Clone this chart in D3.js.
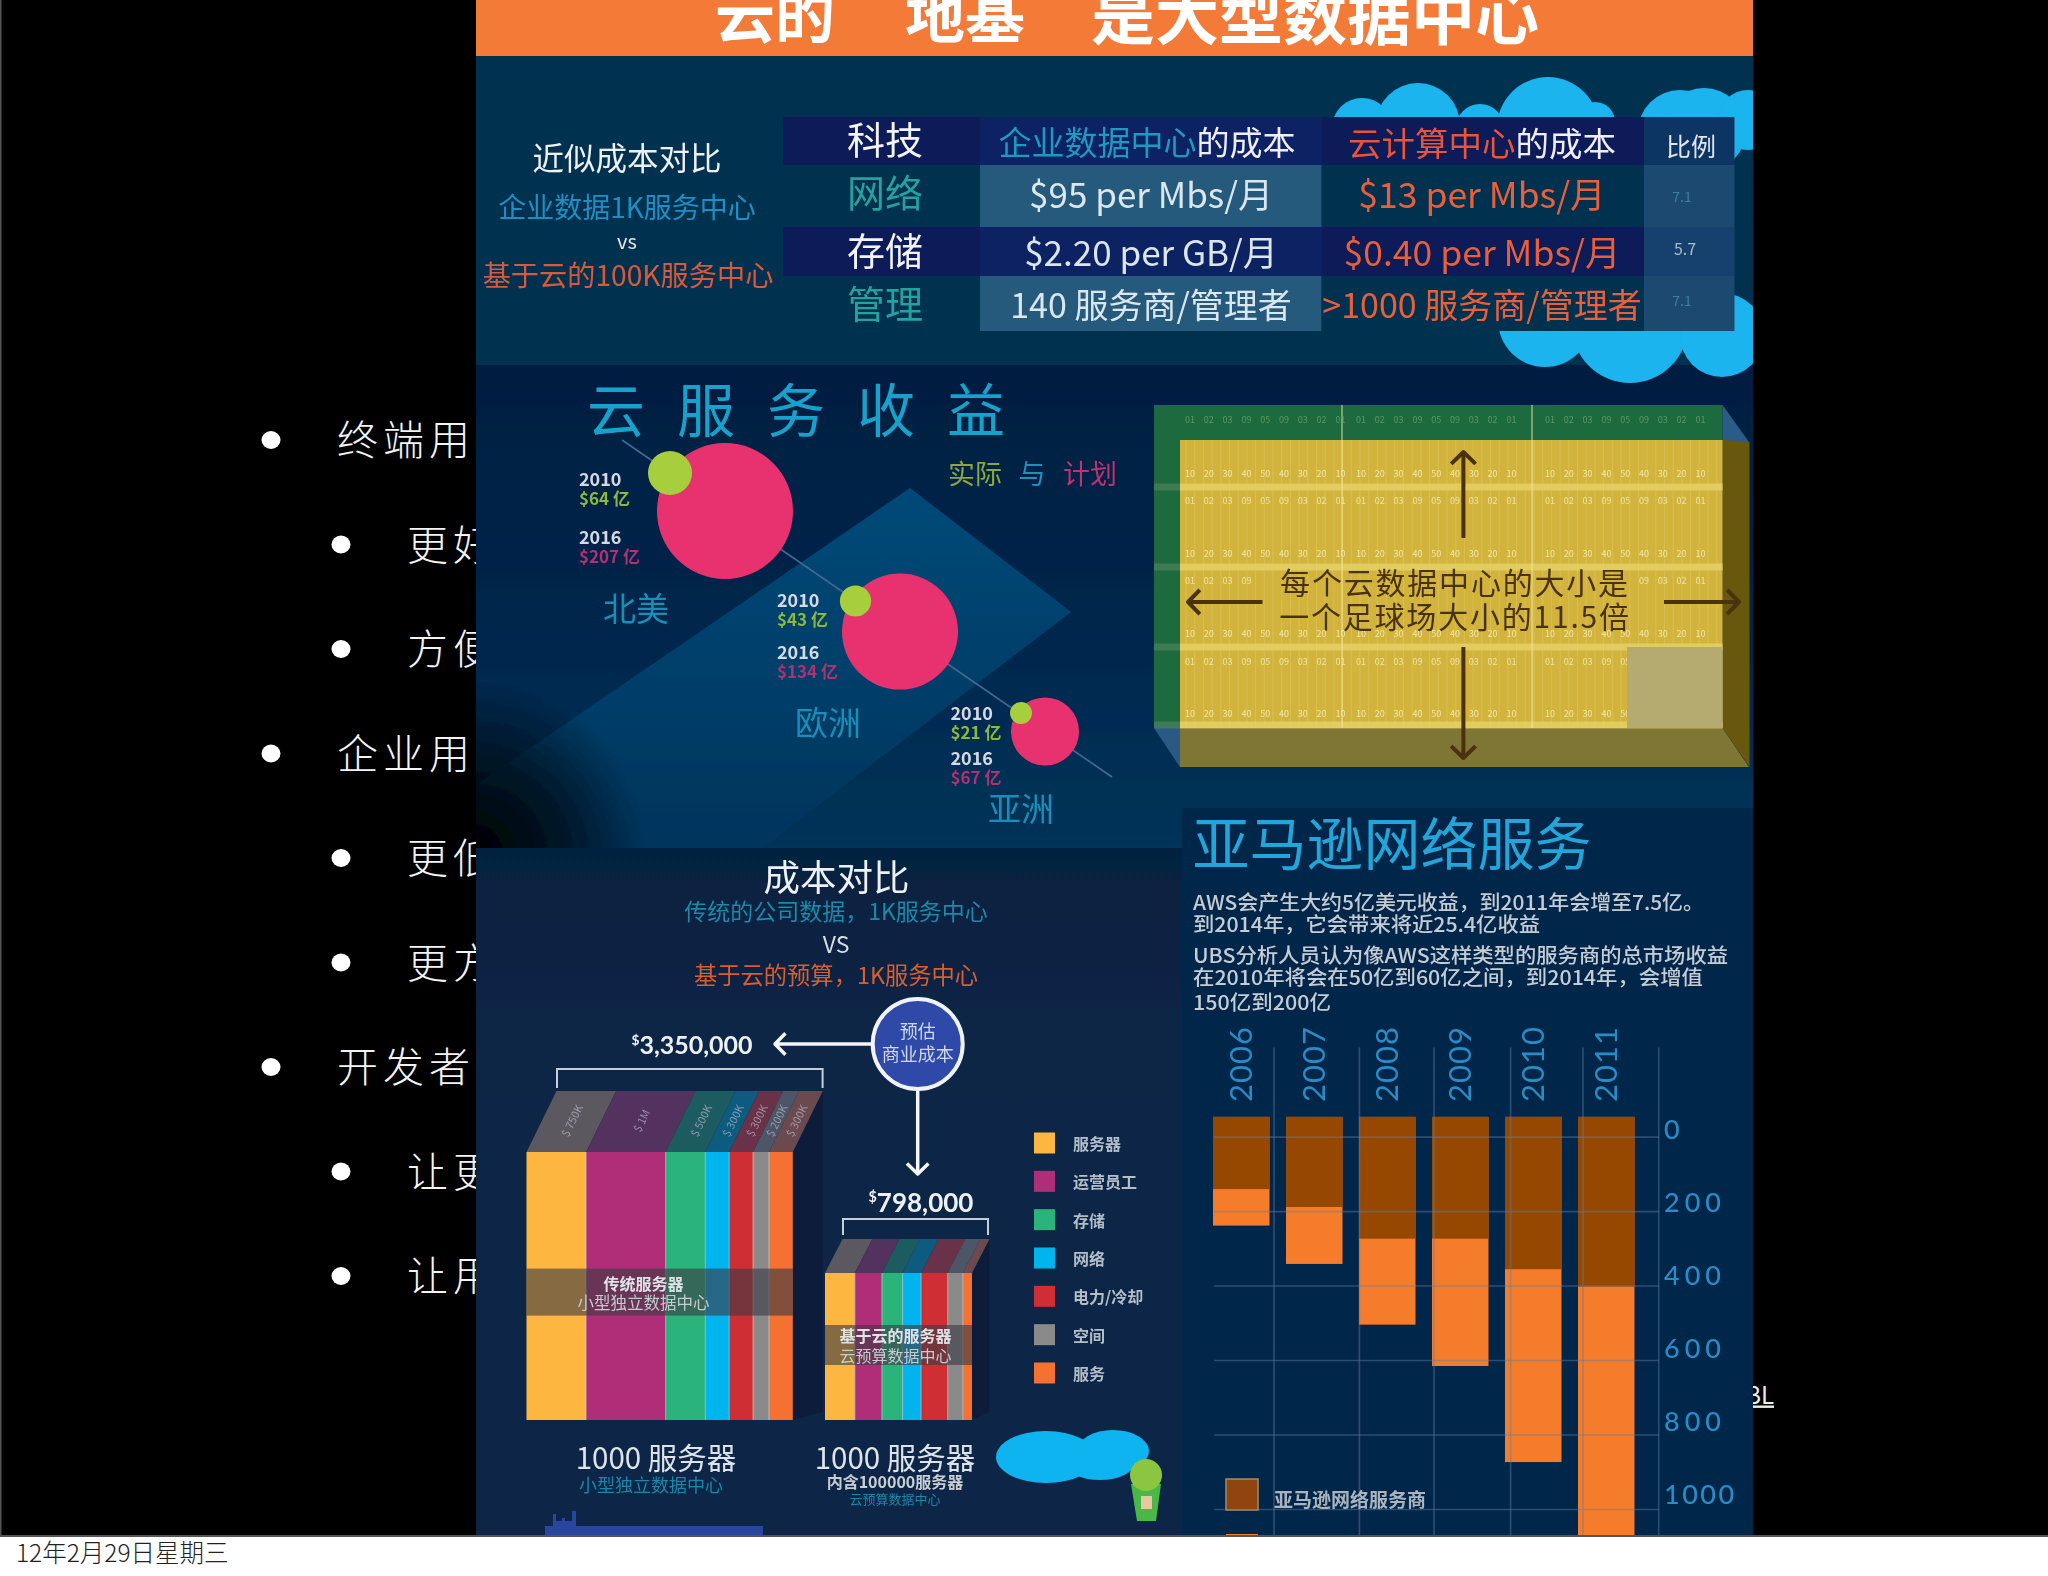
<!DOCTYPE html>
<html>
<head>
<meta charset="utf-8">
<script src="https://cdn.jsdelivr.net/npm/d3@7"></script>
<style>
  html, body { margin: 0; padding: 0; background: #fff; }
  svg { display: block; }
  text { font-family: "Noto Sans CJK SC", "Noto Sans", sans-serif; }
</style>
</head>
<body>
<div id="chart"></div>
<script>
// slide bullets behind the infographic
const bulletLevels = [1, 2, 2, 1, 2, 2, 1, 2, 2]
const bulletTexts = ["终端用户", "更好", "方便", "企业用户", "更低", "更方", "开发者", "让更", "让用"]

// cost table
const techRows = ["科技", "网络", "存储", "管理"]
const enterpriseCost = ["", "$95 per Mbs/月", "$2.20 per GB/月", "140 服务商/管理者"]
const cloudCost = ["", "$13 per Mbs/月", "$0.40 per Mbs/月", ">1000 服务商/管理者"]
const costRatio = ["比例", "7.1", "5.7", "7.1"]

// cloud revenue bubbles
const regions = ["北美", "欧洲", "亚洲"]
const actual2010 = [64, 43, 21]
const planned2016 = [207, 134, 67]

// cost comparison stacks
const costCategories = ["服务器", "运营员工", "存储", "网络", "电力/冷却", "空间", "服务"]
const costColors = ["#fdb73f", "#b02e78", "#2ab47c", "#04b4ee", "#cf2e35", "#8a8a8a", "#f47130"]
const roofColors = ["#5c5860", "#52305f", "#1f5c60", "#0b5c80", "#6a3148", "#4e5666", "#6a4a50"]
const traditionalCost = [750, 1000, 500, 300, 300, 200, 300]
const traditionalLabels = ["$ 750K", "$ 1M", "$ 500K", "$ 300K", "$ 300K", "$ 200K", "$ 300K"]
const cloudStackCost = [162, 147, 112, 100, 145, 82, 50]

// AWS revenue bars
const awsYears = ["2006", "2007", "2008", "2009", "2010", "2011"]
const awsProvider = [141, 189, 274, 274, 356, 403]
const awsTotal = [239, 342, 505, 616, 874, 1085]
const awsTicks = [0, 200, 400, 600, 800, 1000]
const awsBarStart = -53

const yardNumbers = ["10", "20", "30", "40", "50", "40", "30", "20", "10"]
const yardSmall = ["01", "02", "03", "09", "05", "09", "03", "02", "01"]

const svg = d3.select("#chart").append("svg").attr("width", 2048).attr("height", 1576)
const defs = svg.append("defs")

const txt = (sel, x, y, s, size, fill, o = {}) => sel.append("text")
    .attr("x", x).attr("y", y)
    .attr("dominant-baseline", "central")
    .attr("text-anchor", o.anchor || "middle")
    .attr("font-size", size)
    .attr("font-weight", o.weight || 400)
    .attr("fill", fill)
    .attr("opacity", o.opacity === undefined ? 1 : o.opacity)
    .style("font-family", o.family || null)
    .style("letter-spacing", o.spacing || null)
    .text(s)

const gradient = (id, x2, y2, stops) => {
    const g = defs.append("linearGradient").attr("id", id)
        .attr("x1", 0).attr("y1", 0).attr("x2", x2).attr("y2", y2)
    stops.forEach(s => g.append("stop").attr("offset", s[0]).attr("stop-color", s[1]))
}

const arrow = (sel, x1, y1, x2, y2, color, width, head) => {
    sel.append("line").attr("x1", x1).attr("y1", y1).attr("x2", x2).attr("y2", y2)
        .attr("stroke", color).attr("stroke-width", width)
    const a = Math.atan2(y2 - y1, x2 - x1)
    const p = d3.path()
    p.moveTo(x2 - head * Math.cos(a - 0.8), y2 - head * Math.sin(a - 0.8))
    p.lineTo(x2, y2)
    p.lineTo(x2 - head * Math.cos(a + 0.8), y2 - head * Math.sin(a + 0.8))
    sel.append("path").attr("d", p.toString()).attr("fill", "none")
        .attr("stroke", color).attr("stroke-width", width).attr("stroke-linejoin", "round")
}

const poly = (sel, pts, fill, opacity = 1) => sel.append("polygon")
    .attr("points", pts.map(p => p.join(",")).join(" "))
    .attr("fill", fill).attr("opacity", opacity)

// big figure with a small raised dollar sign
const money = (sel, x, y, s, size) => {
    const t = txt(sel, x, y, "", size, "#eef1f4", { weight: 700, family: "Lato" })
    t.append("tspan").attr("font-size", size * 0.55).attr("dy", -size * 0.2).text("$")
    t.append("tspan").attr("dy", size * 0.2).text(s)
}

// ---- slide layer ----
svg.append("rect").attr("width", 2048).attr("height", 1535).attr("fill", "#000")
svg.append("rect").attr("y", 1535).attr("width", 2048).attr("height", 2).attr("fill", "#555")
svg.append("rect").attr("width", 1.5).attr("height", 1535).attr("fill", "#555")

bulletTexts.forEach((t, i) => {
    const yPos = 440 + i * 104.5
    const lv = bulletLevels[i]
    svg.append("ellipse").attr("cx", lv === 1 ? 271 : 341).attr("cy", yPos)
        .attr("rx", 9.5).attr("ry", 9).attr("fill", "#fff")
    txt(svg, lv === 1 ? 337 : 407, yPos - 3, t, 41, "#f4f4f4", { anchor: "start", weight: 300, spacing: "5px" })
})
txt(svg, 1774, 1393, "BL", 24, "#eee", { anchor: "end" }).attr("text-decoration", "underline")
txt(svg, 16, 1551, "12年2月29日星期三", 24.5, "#222", { anchor: "start", weight: 300 })

// ---- infographic layer ----
defs.append("clipPath").attr("id", "panelClip").append("rect")
    .attr("x", 476).attr("y", 0).attr("width", 1277).attr("height", 1535)
defs.append("filter").attr("id", "soft").append("feGaussianBlur").attr("stdDeviation", 0.55)

const panel = svg.append("g").attr("clip-path", "url(#panelClip)")
    .append("g").attr("filter", "url(#soft)")

gradient("revBg", 0, 1, [[0, "#031e40"], [0.55, "#04264c"], [1, "#05345a"]])
gradient("diamondBg", 0, 1, [[0, "#064a78"], [1, "#05345c"]])
gradient("costBg", 0, 1, [[0, "#06203f"], [0.25, "#0a2545"], [1, "#0b2746"]])
const fade = defs.append("radialGradient").attr("id", "fadeBlack").attr("gradientUnits", "userSpaceOnUse")
    .attr("cx", 476).attr("cy", 850).attr("r", 170)
fade.append("stop").attr("offset", 0).attr("stop-color", "#000").attr("stop-opacity", 1)
fade.append("stop").attr("offset", 0.5).attr("stop-color", "#000").attr("stop-opacity", 0.6)
fade.append("stop").attr("offset", 1).attr("stop-color", "#000").attr("stop-opacity", 0)

panel.append("rect").attr("x", 476).attr("y", 0).attr("width", 1277).attr("height", 366).attr("fill", "#06304f")
panel.append("rect").attr("x", 476).attr("y", 365).attr("width", 1277).attr("height", 485).attr("fill", "url(#revBg)")

// header band
panel.append("rect").attr("x", 476).attr("y", 0).attr("width", 1277).attr("height", 56).attr("fill", "#f47a38")
txt(panel, 775, 11, "云的", 60, "#fff", { weight: 700 })
txt(panel, 965, 11, "地基", 60, "#fff", { weight: 700 })
txt(panel, 1315, 11, "是大型数据中心", 64, "#fff", { weight: 700 })

// clouds around the table
const cloudBlue = "#1ab4ee"
const clouds = [
    [1362, 128, 30], [1418, 125, 42], [1480, 128, 24], [1548, 128, 51], [1595, 122, 20],
    [1680, 132, 42], [1704, 130, 42], [1748, 120, 30],
    [1545, 320, 47], [1630, 325, 58], [1722, 335, 42]
]
panel.selectAll("circle.cloud").data(clouds).join("circle").attr("class", "cloud")
    .attr("cx", d => d[0]).attr("cy", d => d[1]).attr("r", d => d[2])
    .attr("fill", cloudBlue)

// cost table
const rowEdges = [117, 165, 227, 276, 331]
const rowMid = [137.5, 190.5, 248.5, 301.5]
const cellMid = [142, 193, 251, 304]
const colEdges = [783, 980, 1321.5, 1644, 1734.5]
const colFill = [
    ["#0a1a58", "#0e2064", "#0a1a58", "#103464"],
    [null, "#275a7c", null, "#1b4a70"],
    ["#0a1a58", "#0e2064", "#0a1a58", "#16406e"],
    [null, "#275a7c", null, "#1b4a70"]
]
techRows.forEach((r, i) => {
    colFill[i].forEach((c, j) => {
        panel.append("rect").attr("x", colEdges[j]).attr("y", rowEdges[i])
            .attr("width", colEdges[j + 1] - colEdges[j]).attr("height", rowEdges[i + 1] - rowEdges[i])
            .attr("fill", c === null ? (j === 0 || j === 2 ? "#06304f" : "none") : c)
    })
    txt(panel, 885, rowMid[i], r, 38, i % 2 === 0 ? "#f2f4f8" : "#23a3a0")
    if (i > 0) {
        const latin = i < 3
        txt(panel, 1151, cellMid[i] - 1, enterpriseCost[i], latin ? 35 : 34, "#dbe7ee")
        txt(panel, 1482, cellMid[i] - 1, cloudCost[i], latin ? 35.5 : 34, "#e8603a")
    }
})
const h1 = txt(panel, 1147, 141, "", 33, "#eef")
h1.append("tspan").attr("fill", "#1f9ac0").text("企业数据中心")
h1.append("tspan").text("的成本")
const h2 = txt(panel, 1482, 141, "", 33.5, "#eef")
h2.append("tspan").attr("fill", "#e8553a").text("云计算中心")
h2.append("tspan").text("的成本")
txt(panel, 1691, 145, costRatio[0], 25, "#dfe6ee")
txt(panel, 1682, 196, costRatio[1], 14, "#3f7f9c")
txt(panel, 1685, 248, costRatio[2], 16, "#a8bccb")
txt(panel, 1682, 300, costRatio[3], 14, "#3f7f9c")

txt(panel, 627, 156, "近似成本对比", 31.5, "#eef1f4")
txt(panel, 627, 206, "企业数据1K服务中心", 28, "#1e8fc4")
txt(panel, 627, 240, "vs", 20, "#e6e6e6")
txt(panel, 628, 273, "基于云的100K服务中心", 28.2, "#d95a3a")

// revenue section
poly(panel, [[476, 785], [910, 488], [1071, 612], [760, 850], [476, 850]], "url(#diamondBg)")
panel.append("rect").attr("x", 476).attr("y", 680).attr("width", 170).attr("height", 170).attr("fill", "url(#fadeBlack)")

"云服务收益".split("").forEach((c, i) => txt(panel, 616 + i * 90, 407, c, 58, "#17a2cb"))
panel.append("line").attr("x1", 622).attr("y1", 440).attr("x2", 1112).attr("y2", 777)
    .attr("stroke", "#466a92").attr("stroke-width", 1.6)

const regionCx = d3.scaleOrdinal(regions, [725, 900, 1045])
const regionCy = d3.scaleOrdinal(regions, [511, 631.6, 731.5])
const greenCx = d3.scaleOrdinal(regions, [670, 855.5, 1021])
const greenCy = d3.scaleOrdinal(regions, [473, 601, 713])
const labelX = d3.scaleOrdinal(regions, [579, 777, 950.5])
const labelY = d3.scaleOrdinal(regions, [478, 599, 712])
const labelGap = d3.scaleOrdinal(regions, [58, 52, 45])
const nameX = d3.scaleOrdinal(regions, [636, 828, 1021])
const nameY = d3.scaleOrdinal(regions, [607, 721, 807])
const rScale = d3.scaleLinear().domain([21, 43, 64, 67, 134, 207]).range([11, 15.6, 22, 34, 58, 68])

panel.selectAll("circle.plan").data(regions).join("circle").attr("class", "plan")
    .attr("cx", d => regionCx(d)).attr("cy", d => regionCy(d))
    .attr("r", (d, i) => rScale(planned2016[i])).attr("fill", "#e8336f")
panel.selectAll("circle.act").data(regions).join("circle").attr("class", "act")
    .attr("cx", d => greenCx(d)).attr("cy", d => greenCy(d))
    .attr("r", (d, i) => rScale(actual2010[i])).attr("fill", "#a7cf3e")

regions.forEach((r, i) => {
    const lx = labelX(r), ly = labelY(r), gap = labelGap(r)
    txt(panel, lx, ly, "2010", 18, "#d5d9e2", { anchor: "start", weight: 700 })
    txt(panel, lx, ly + 19, "$" + actual2010[i] + " 亿", 17, "#8db83c", { anchor: "start", weight: 700 })
    txt(panel, lx, ly + gap, "2016", 18, "#d5d9e2", { anchor: "start", weight: 700 })
    txt(panel, lx, ly + gap + 19, "$" + planned2016[i] + " 亿", 17, "#b03070", { anchor: "start", weight: 700 })
    txt(panel, nameX(r), nameY(r), r, 33, "#1690b8")
})
txt(panel, 975, 472, "实际", 27, "#8aa83a")
txt(panel, 1032, 472, "与", 27, "#1e90c0")
txt(panel, 1090, 472, "计划", 27, "#c03070")

// football field
const fx0 = 1180, fx1 = 1722.6, fy0 = 440, fy1 = 728
poly(panel, [[1154, 405], [1722.6, 405], [1722.6, 440], [1180, 440], [1180, 728], [1154, 728]], "#1e6b3e")
poly(panel, [[1722.6, 405], [1749, 442], [1722.6, 442]], "#2a5c88")
poly(panel, [[1154, 728], [1180, 728], [1180, 767]], "#2b5a84")
poly(panel, [[1180, 728], [1722.6, 728], [1749, 767], [1180, 767]], "#7f7434")
poly(panel, [[1722.6, 440], [1749.5, 442], [1749.5, 767], [1722.6, 728]], "#675810")
panel.append("rect").attr("x", fx0).attr("y", fy0).attr("width", fx1 - fx0).attr("height", fy1 - fy0).attr("fill", "#d2b43e")
d3.range(fx0 + 6, fx1, 8.7).forEach(x => {
    panel.append("line").attr("x1", x).attr("x2", x).attr("y1", fy0).attr("y2", fy1)
        .attr("stroke", "#efe08a").attr("stroke-width", 0.8).attr("opacity", 0.3)
})
;[487, 567, 647, 725].forEach(y => {
    panel.append("rect").attr("x", fx0).attr("y", y - 3.5).attr("width", fx1 - fx0).attr("height", 7).attr("fill", "#e6d56c").attr("opacity", 0.7)
    panel.append("rect").attr("x", 1154).attr("y", y - 3.5).attr("width", fx0 - 1154).attr("height", 7).attr("fill", "#7a9a78").attr("opacity", 0.35)
})
;[1342, 1532].forEach(x => {
    panel.append("line").attr("x1", x).attr("x2", x).attr("y1", 405).attr("y2", fy1)
        .attr("stroke", "#f3e9a8").attr("stroke-width", 1.2).attr("opacity", 0.75)
})
;[1190, 1361, 1550].forEach(sx => {
    yardNumbers.forEach((n, i) => {
        const x = sx + i * 18.8
        ;[473, 553, 633, 713].forEach(y => txt(panel, x, y, n, 9, "#f6efc0", { opacity: 0.85 }))
        ;[500, 580, 661].forEach(y => {
            // the size caption hides the middle row
            if (y === 580 && x > 1262 && x < 1640) return
            txt(panel, x, y, yardSmall[i], 9, "#f6efc0", { opacity: 0.8 })
        })
        txt(panel, x, 419, yardSmall[i], 9, "#6aa070", { opacity: 0.8 })
    })
})
panel.append("rect").attr("x", 1627).attr("y", 647).attr("width", fx1 - 1627).attr("height", fy1 - 647).attr("fill", "#b5aa6f")
const brown = "#4a3010"
arrow(panel, 1463.4, 538, 1463.4, 452, brown, 4, 17)
arrow(panel, 1463.4, 647, 1463.4, 758, brown, 4, 17)
arrow(panel, 1262.5, 602, 1188, 602, brown, 4, 17)
arrow(panel, 1664, 602, 1739, 602, brown, 4, 17)
txt(panel, 1455, 580.5, "每个云数据中心的大小是", 30, brown, { spacing: "1.8px" })
txt(panel, 1455, 614.5, "一个足球场大小的11.5倍", 30, brown, { spacing: "1.8px" })

// cost comparison
panel.append("rect").attr("x", 476).attr("y", 848).attr("width", 706).attr("height", 690).attr("fill", "url(#costBg)")
panel.append("rect").attr("x", 1182).attr("y", 808).attr("width", 571).attr("height", 730).attr("fill", "#02254a")

txt(panel, 836.4, 875, "成本对比", 36.5, "#eef1f4")
txt(panel, 836, 910, "传统的公司数据，1K服务中心", 23, "#1a8aa8")
txt(panel, 836, 943, "VS", 23, "#d8dde2")
txt(panel, 836, 974, "基于云的预算，1K服务中心", 23.3, "#d9602f")

panel.append("circle").attr("cx", 917.7).attr("cy", 1044).attr("r", 45).attr("fill", "#2f4aa8")
    .attr("stroke", "#f0f4fa").attr("stroke-width", 4)
txt(panel, 917.7, 1030, "预估", 18, "#cfd8ea")
txt(panel, 917.7, 1052.7, "商业成本", 18, "#cfd8ea")
arrow(panel, 871, 1044, 775, 1044, "#f4f6fa", 3.5, 15)
arrow(panel, 917.7, 1091, 917.7, 1174, "#f4f6fa", 3.5, 15)
money(panel, 692, 1044, "3,350,000", 25)
money(panel, 921, 1201.5, "798,000", 26)

const bracket = (x0, x1, y0, y1) => panel.append("path")
    .attr("d", `M${x0},${y1}V${y0}H${x1}V${y1}`).attr("fill", "none")
    .attr("stroke", "#c4cfd8").attr("stroke-width", 2)
bracket(557, 822.6, 1069, 1088)
bracket(843, 988, 1219, 1235)

const drawStack = (values, x, top, bottom, shear, roof, bandTop, bandBottom, labels) => {
    const edges = [0, ...d3.cumsum(values)]
    const xEnd = x(d3.sum(values))
    poly(panel, [[xEnd, top], [xEnd + shear, top - roof], [xEnd + shear, bottom - 8], [xEnd, bottom]], "#081c3a")
    values.forEach((v, i) => {
        const a = x(edges[i]), b = x(edges[i + 1])
        poly(panel, [[a, top], [b, top], [b + shear, top - roof], [a + shear, top - roof]], roofColors[i])
        panel.append("rect").attr("x", a).attr("y", top).attr("width", b - a).attr("height", bottom - top)
            .attr("fill", costColors[i])
        if (i > 0) {
            panel.append("line").attr("x1", a).attr("x2", a).attr("y1", top).attr("y2", bottom)
                .attr("stroke", "#e8e8e8").attr("stroke-width", 0.9).attr("opacity", 0.6)
        }
        if (labels) {
            txt(panel, 0, 0, labels[i], 11, "#b8b4c4", { opacity: 0.7 })
                .attr("transform", `translate(${(a + b) / 2 + shear * 0.5},${top - roof * 0.52}) rotate(-64)`)
        }
    })
    panel.append("rect").attr("x", x(0)).attr("y", bandTop).attr("width", xEnd - x(0))
        .attr("height", bandBottom - bandTop).attr("fill", "#3c3a44").attr("opacity", 0.62)
}
drawStack(traditionalCost, d3.scaleLinear().domain([0, 3350]).range([526.5, 792.8]),
    1152, 1420, 30, 61, 1268.6, 1315.6, traditionalLabels)
drawStack(cloudStackCost, d3.scaleLinear().domain([0, 798]).range([825, 972]),
    1273, 1420, 17.5, 34, 1325, 1365, null)

txt(panel, 643.6, 1282.7, "传统服务器", 16, "#dfe2e6", { weight: 700 })
txt(panel, 643.6, 1301.5, "小型独立数据中心", 16.5, "#c4ccd0")
txt(panel, 895.6, 1335, "基于云的服务器", 16, "#dfe2e6", { weight: 700 })
txt(panel, 895.6, 1355, "云预算数据中心", 16, "#c4ccd0")

txt(panel, 656, 1456, "1000 服务器", 29.5, "#dfe4ea")
txt(panel, 651, 1484, "小型独立数据中心", 18, "#1a86ab")
txt(panel, 895, 1456, "1000 服务器", 29.5, "#dfe4ea")
txt(panel, 895, 1481, "内含100000服务器", 16, "#c8ced4", { weight: 700 })
txt(panel, 895, 1498, "云预算数据中心", 13, "#1a86ab")

const legendY = d3.scalePoint().domain(costCategories).range([1143, 1373])
panel.selectAll("rect.leg").data(costCategories).join("rect").attr("class", "leg")
    .attr("x", 1034).attr("y", d => legendY(d) - 10.5).attr("width", 21).attr("height", 21)
    .attr("fill", (d, i) => costColors[i])
costCategories.forEach(c => txt(panel, 1073, legendY(c), c, 16, "#b4bec8", { anchor: "start", weight: 700 }))

// small cloud + balloon, skyline
;[[1046, 1457, 50, 26], [1100, 1462, 35, 18], [1113, 1451, 36, 21]].forEach(d => {
    panel.append("ellipse").attr("cx", d[0]).attr("cy", d[1]).attr("rx", d[2]).attr("ry", d[3]).attr("fill", "#0db4ef")
})
panel.append("path").attr("d", "M1131,1484L1137,1521H1156L1161,1484Z").attr("fill", "#49b848")
panel.append("rect").attr("x", 1141).attr("y", 1496).attr("width", 11).attr("height", 13).attr("fill", "#e8c8a0")
panel.append("circle").attr("cx", 1146).attr("cy", 1475).attr("r", 16).attr("fill", "#8cc63f")
panel.append("path").attr("d", "M545,1535V1526H553V1514H556V1521H562V1518H565V1521H572V1511H576V1526H763V1535Z").attr("fill", "#2b45a0")

// AWS section
txt(panel, 1392, 840, "亚马逊网络服务", 57, "#22a5d8")
const awsText = [
    ["AWS会产生大约5亿美元收益，到2011年会增至7.5亿。", 901.5, 511],
    ["到2014年，它会带来将近25.4亿收益", 923, 347],
    ["UBS分析人员认为像AWS这样类型的服务商的总市场收益", 954.5, 535],
    ["在2010年将会在50亿到60亿之间，到2014年，会增值", 976, 510],
    ["150亿到200亿", 1001.5, 138]
]
awsText.forEach(d => {
    txt(panel, 1193, d[1], d[0], 20, "#c6ccd4", { anchor: "start", weight: 500 })
        .attr("textLength", d[2]).attr("lengthAdjust", "spacingAndGlyphs")
})

const xAws = d3.scaleBand().domain(awsYears).range([1204.75, 1642.75]).paddingInner(0.226).paddingOuter(0.113)
const yAws = d3.scaleLinear().domain([0, 1000]).range([1136.6, 1509])

const bars = panel.append("g")
bars.selectAll("rect.total").data(awsYears).join("rect").attr("class", "total")
    .attr("x", d => xAws(d)).attr("width", xAws.bandwidth())
    .attr("y", yAws(awsBarStart)).attr("height", (d, i) => yAws(awsTotal[i]) - yAws(awsBarStart))
    .attr("fill", "#f47b2a")
bars.selectAll("rect.provider").data(awsYears).join("rect").attr("class", "provider")
    .attr("x", d => xAws(d)).attr("width", xAws.bandwidth())
    .attr("y", yAws(awsBarStart)).attr("height", (d, i) => yAws(awsProvider[i]) - yAws(awsBarStart))
    .attr("fill", "#964704")

;[1274, 1359.4, 1434, 1510.6, 1583, 1658.7].forEach(x => {
    panel.append("line").attr("x1", x).attr("x2", x).attr("y1", 1047.5).attr("y2", 1535)
        .attr("stroke", "#5d7f9e").attr("stroke-width", 1.6).attr("opacity", 0.45)
})

const yAxis = panel.append("g").attr("transform", "translate(1659,0)")
    .call(d3.axisRight(yAws).tickValues(awsTicks).tickFormat(d3.format("d")).tickSize(-445).tickPadding(5))
yAxis.select(".domain").remove()
yAxis.selectAll("line").attr("stroke", "#5d7f9e").attr("stroke-width", 1.6).attr("opacity", 0.45)
yAxis.selectAll("text")
    .attr("dy", "0.32em")
    .attr("transform", d => `translate(0,${-6.5 - d * 0.0075})`)
    .attr("fill", "#2a8cc4").attr("font-size", 27)
    .style("font-family", "Lato").style("letter-spacing", d => d === 1000 ? "2.5px" : "5px").attr("font-weight", 500)

const xAxis = panel.append("g").attr("transform", "translate(0,1102)")
    .call(d3.axisTop(xAws).tickSize(0))
xAxis.select(".domain").remove()
xAxis.selectAll("text")
    .attr("x", 0).attr("y", 0).attr("dy", "0.36em")
    .attr("text-anchor", "start").attr("transform", "rotate(-90)")
    .attr("fill", "#2a8cc4").attr("font-size", 31)
    .style("font-family", "Lato").style("letter-spacing", "1px")

panel.append("rect").attr("x", 1226).attr("y", 1479).attr("width", 32).attr("height", 31)
    .attr("fill", "#8f4507").attr("stroke", "#a08a70").attr("stroke-width", 1.5)
panel.append("rect").attr("x", 1226).attr("y", 1534).attr("width", 32).attr("height", 4).attr("fill", "#f47b2a")
txt(panel, 1274, 1498, "亚马逊网络服务商", 19, "#aab4be", { anchor: "start", weight: 700 })
</script>
</body>
</html>
